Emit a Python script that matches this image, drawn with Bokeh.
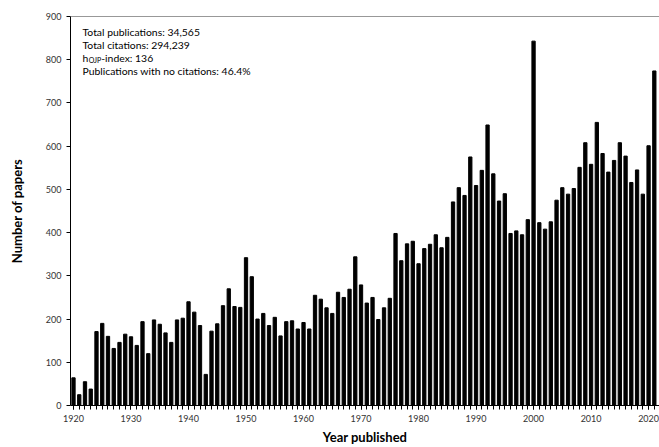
from bokeh.plotting import figure
from bokeh.models import Range1d, SingleIntervalTicker, Label, Span
from bokeh.embed import file_html
from bokeh.resources import INLINE

years = list(range(1920, 2022))
papers = [64, 25, 55, 38, 171, 190, 160, 132, 146, 165,
          159, 139, 194, 120, 198, 188, 168, 146, 198, 202,
          240, 216, 185, 72, 172, 189, 231, 270, 229, 227,
          342, 298, 200, 213, 185, 204, 161, 194, 196, 177,
          192, 177, 255, 246, 226, 213, 262, 250, 269, 344,
          279, 237, 250, 199, 226, 248, 398, 335, 374, 380,
          328, 363, 373, 395, 365, 389, 471, 504, 486, 575,
          509, 544, 649, 536, 473, 490, 398, 404, 395, 430,
          843, 423, 408, 425, 475, 504, 489, 502, 551, 608,
          558, 655, 583, 540, 567, 608, 577, 516, 545, 489,
          601, 774]

info_lines = ["Total publications: 34,565",
              "Total citations: 294,239",
              None,
              "Publications with no citations: 46.4%"]
h_parts = ["h", "OJP", "-index: 136"]

FONT = "Lato"

p = figure(width=659, height=447, output_backend="svg", toolbar_location=None,
           x_range=Range1d(1919.48, 2021.9), y_range=Range1d(0, 900),
           min_border_left=70, min_border_right=0, min_border_top=16,
           min_border_bottom=41)
p.outline_line_color = None
p.grid.visible = False
p.background_fill_color = "white"
p.border_fill_color = "white"

p.vbar(x=years, top=papers, width=0.57, color="black")

p.add_layout(Span(location=900, dimension="width", line_color="#333333", line_width=1))

p.xaxis.ticker = SingleIntervalTicker(interval=10, num_minor_ticks=10)
p.yaxis.ticker = SingleIntervalTicker(interval=100)
for ax in (p.xaxis, p.yaxis):
    ax.axis_line_color = "black"
    ax.major_tick_line_color = "black"
    ax.minor_tick_line_color = "black"
    ax.major_tick_in = 0
    ax.major_tick_out = 4
    ax.minor_tick_in = 0
    ax.minor_tick_out = 4
    ax.major_label_text_font = FONT
    ax.major_label_text_font_size = "9px"
    ax.major_label_text_color = "#333333"
    ax.axis_label_text_font = FONT
    ax.axis_label_text_font_style = "bold"
    ax.axis_label_text_font_size = "13px"
    ax.axis_label_text_color = "black"
p.yaxis.minor_tick_line_color = None
p.xaxis.major_label_standoff = 5
p.yaxis.major_label_standoff = 5
p.xaxis.axis_label = "Year published"
p.yaxis.axis_label = "Number of papers"
p.xaxis.axis_label_standoff = 4
p.yaxis.axis_label_standoff = 18

x0 = 1921.56
ys = [863, 834, 804, 775]
fs = "10.4px"
for txt, yy in zip(info_lines, ys):
    if txt:
        p.add_layout(Label(x=x0, y=yy, text=txt, text_font=FONT, text_font_size=fs,
                           text_baseline="middle", text_color="black"))
p.add_layout(Label(x=x0, y=ys[2], text=h_parts[0], text_font=FONT, text_font_size=fs,
                   text_baseline="middle", text_color="black"))
p.add_layout(Label(x=x0, y=ys[2], text=h_parts[1], text_font=FONT, text_font_size="7px",
                   text_baseline="middle", text_color="black", x_offset=6.2, y_offset=-2.5))
p.add_layout(Label(x=x0, y=ys[2], text=h_parts[2], text_font=FONT, text_font_size=fs,
                   text_baseline="middle", text_color="black", x_offset=18.8))

open("out.html", "w").write(file_html(p, INLINE))
